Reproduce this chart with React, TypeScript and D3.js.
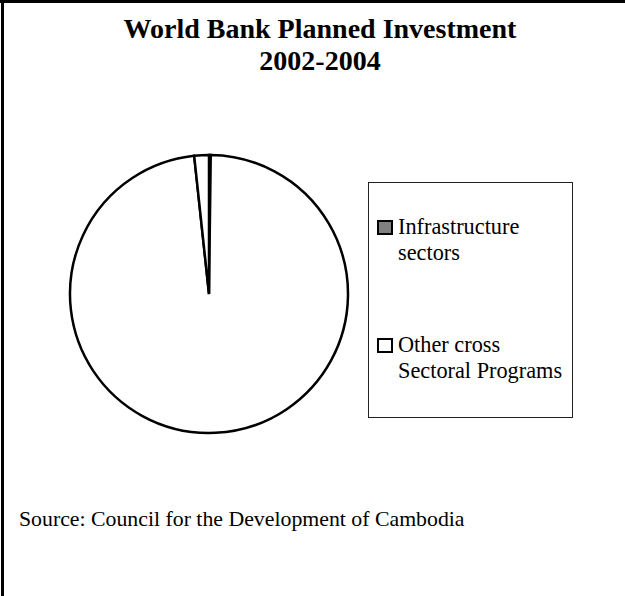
import React from "react";
import * as d3 from "d3";

const titleLines = ["World Bank Planned Investment", "2002-2004"];
const categories = ["Infrastructure sectors", "Other cross Sectoral Programs", ""];
const values = [0.2, 98.1, 1.7];
const fills = ["#808080", "#ffffff", "#ffffff"];
const legendLines = [["Infrastructure", "sectors"], ["Other cross", "Sectoral Programs"]];
const sourceText = "Source: Council for the Development of Cambodia";

const W = 625;
const H = 596;
const cx = 209;
const cy = 294;
const R = 139;

export default function App() {
  const pie = d3.pie<number>().sort(null).value((d) => d);
  const arcs = pie(values);
  const arcGen = d3.arc<d3.PieArcDatum<number>>().innerRadius(0).outerRadius(R);
  const serif = "'Liberation Serif', 'Times New Roman', serif";
  const legendItems = categories.map((c, i) => ({ c, i })).filter((d) => d.c !== "");
  const legendY = d3.scalePoint<number>().domain(legendItems.map((d) => d.i)).range([234, 352]);

  return (
    <svg width={W} height={H} style={{ position: "absolute", left: 0, top: 0, background: "#fff" }}>
      <rect x={0} y={0} width={W} height={H} fill="#fff" />
      <line x1={2.5} y1={0} x2={2.5} y2={H} stroke="#000" strokeWidth={3} />
      <line x1={0} y1={1.5} x2={W} y2={1.5} stroke="#000" strokeWidth={3} />
      {titleLines.map((t, i) => (
        <text key={i} x={320} y={38 + i * 32} textAnchor="middle" fontFamily={serif} fontWeight="bold" fontSize={28} fill="#000">
          {t}
        </text>
      ))}
      <g transform={`translate(${cx},${cy})`}>
        {arcs.map((a, i) => (
          <path key={i} d={arcGen(a) || ""} fill={fills[i]} stroke="#000" strokeWidth={2.5} strokeLinejoin="miter" />
        ))}
      </g>
      <rect x={368.5} y={182.5} width={204} height={235} fill="none" stroke="#222" strokeWidth={1} />
      {legendItems.map((d) => {
        const y = legendY(d.i) as number;
        return (
          <g key={d.i}>
            <rect x={378} y={y - 13} width={14} height={13} fill={fills[d.i]} stroke="#000" strokeWidth={2} />
            {legendLines[d.i].map((l, j) => (
              <text key={j} x={398} y={y + j * 26} fontFamily={serif} fontSize={22.3} fill="#000">
                {l}
              </text>
            ))}
          </g>
        );
      })}
      <text x={19} y={526} fontFamily={serif} fontSize={21.8} fill="#000">
        {sourceText}
      </text>
    </svg>
  );
}
